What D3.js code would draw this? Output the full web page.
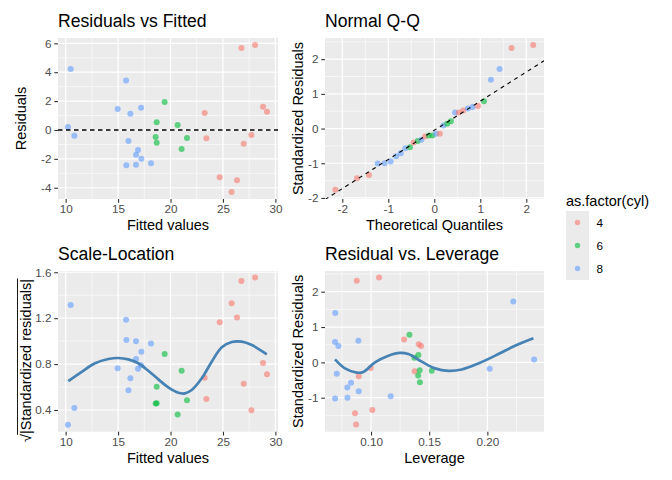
<!DOCTYPE html>
<html><head><meta charset="utf-8">
<script src="https://cdn.jsdelivr.net/npm/d3@7"></script>
<style>
body{margin:0;background:#fff}
svg{display:block}
text{font-family:"Liberation Sans",Arial,Helvetica,sans-serif}
</style>
</head><body>
<svg id="c" width="672" height="480"></svg>
<script>
// ---------------- data ----------------
const cylLevels = ["4", "6", "8"];
const cylColors = ["#F8766D", "#00BA38", "#619CFF"];

// Residuals vs Fitted + Scale-Location (same observations)
const obsCyl = ["8","8","8","8","8","8","8","8","8","8","8","8","8","8",
                "6","6","6","6","6","6","6",
                "4","4","4","4","4","4","4","4","4","4","4"];
const obsFitted = [10.48,10.22,10.83,15.76,14.96,16.17,17.19,15.99,16.90,16.71,17.22,15.79,16.71,18.14,
                   19.44,18.68,20.68,18.58,18.68,21.57,21.06,
                   26.76,28.06,23.26,28.82,29.20,23.42,27.71,26.98,24.69,26.34,25.83];
const obsResid = [4.22,0.20,-0.40,3.43,1.45,1.13,1.54,-0.77,-1.39,-1.71,-1.99,-2.45,-2.41,-2.31,
                  1.93,0.53,0.34,-0.49,-0.88,-0.56,-1.32,
                  5.67,5.88,1.17,1.61,1.27,-0.58,-0.35,-0.95,-3.28,-3.49,-4.30];
const obsSqrtStd = [1.315,0.272,0.418,1.187,0.763,0.677,0.790,0.572,0.760,0.844,0.908,1.010,0.998,0.980,
                    0.888,0.458,0.360,0.456,0.603,0.485,0.743,
                    1.524,1.554,0.682,0.809,0.712,0.496,0.398,0.628,1.165,1.206,1.331];

// Normal Q-Q
const qqTheo = [-2.15,-1.68,-1.42,-1.23,-1.08,-0.95,-0.83,-0.73,-0.63,-0.53,-0.45,-0.36,-0.28,-0.20,-0.12,-0.04,
                0.04,0.12,0.20,0.28,0.36,0.45,0.53,0.63,0.73,0.83,0.95,1.08,1.23,1.42,1.68,2.15];
const qqSample = [-1.76,-1.43,-1.34,-1.01,-1.00,-0.95,-0.80,-0.71,-0.57,-0.54,-0.40,-0.36,-0.32,-0.23,-0.20,-0.20,
                  -0.15,-0.15,0.09,0.14,0.21,0.46,0.46,0.52,0.58,0.62,0.65,0.79,1.41,1.72,2.32,2.41];
const qqCyl = ["4","4","4","8","8","8","8","8","8","6","4","6","8","4","6","6",
               "8","4","8","6","6","8","4","4","8","8","4","6","8","8","4","4"];
const qqLine = [-0.05, 0.84]; // intercept, slope

// Residual vs Leverage
const levCyl = ["4","4","4","4","4","4","4","4","4","4","4",
                "8","8","8","8","8","8","8","8","8","8","8","8","8","8",
                "6","6","6","6","6","6","6"];
const levValue = [0.0877,0.1069,0.1284,0.1410,0.1430,0.1375,0.0997,0.0894,0.1011,0.0862,0.0871,
                  0.0692,0.0690,0.0719,0.0891,0.0705,0.0828,0.0796,0.0894,0.0691,0.0797,0.1169,0.2020,0.2223,0.2402,
                  0.1330,0.1407,0.1373,0.1418,0.1405,0.1420,0.1522];
const levStd = [2.31,2.40,0.65,0.51,0.46,-0.25,-0.16,-0.39,-1.35,-1.44,-1.76,
                1.40,0.58,0.46,0.61,-0.32,-0.58,-0.71,-0.82,-1.02,-1.00,-0.96,-0.18,1.72,0.08,
                0.78,0.21,0.13,-0.22,-0.37,-0.56,-0.24];

// loess smooth curves
const slSmoothX = [10.25,11.53,12.80,14.07,15.02,15.97,16.93,17.88,18.84,19.79,20.75,21.38,22.02,22.98,23.93,24.89,25.84,26.79,27.75,29.18];
const slSmoothY = [0.652,0.733,0.807,0.844,0.853,0.841,0.807,0.742,0.667,0.597,0.550,0.545,0.574,0.676,0.821,0.946,0.992,0.995,0.966,0.885];
const rlSmoothX = [0.0690,0.0776,0.0877,0.0934,0.1034,0.1149,0.1249,0.1321,0.1436,0.1550,0.1665,0.1780,0.1923,0.2095,0.2238,0.2396];
const rlSmoothY = [0.085,-0.17,-0.29,-0.27,0.0,0.19,0.27,0.235,0.02,-0.17,-0.24,-0.20,-0.03,0.235,0.47,0.68];

// ticks
const fitTicks = [10,15,20,25,30], fitLabels = ["10","15","20","25","30"];
const resTicks = [-4,-2,0,2,4,6], resLabels = ["-4","-2","0","2","4","6"];
const qqXTicks = [-2,-1,0,1,2], qqXLabels = ["-2","-1","0","1","2"];
const qqYTicks = [-2,-1,0,1,2], qqYLabels = ["-2","-1","0","1","2"];
const slYTicks = [0.4,0.8,1.2,1.6], slYLabels = ["0.4","0.8","1.2","1.6"];
const levXTicks = [0.10,0.15,0.20], levXLabels = ["0.10","0.15","0.20"];
const levYTicks = [-1,0,1,2], levYLabels = ["-1","0","1","2"];

// ---------------- drawing ----------------
const svg = d3.select("#c");
const color = d3.scaleOrdinal().domain(cylLevels).range(cylColors);
const PT_R = 3.0, PT_ALPHA = 0.6;

function minorOf(ticks, dom) {
  const step = ticks[1] - ticks[0];
  const ext = [ticks[0] - step].concat(ticks, [ticks[ticks.length-1] + step]);
  const out = [];
  for (let i = 0; i < ext.length - 1; i++) {
    const m = (ext[i] + ext[i+1]) / 2;
    if (m >= Math.min(...dom) && m <= Math.max(...dom)) out.push(m);
  }
  return out;
}

let clipId = 0;
function panel(o) {
  const x = d3.scaleLinear().domain(o.xDom).range([o.l, o.r]);
  const y = d3.scaleLinear().domain(o.yDom).range([o.b, o.t]);
  const g = svg.append("g");
  g.append("rect").attr("x", o.l).attr("y", o.t).attr("width", o.r - o.l).attr("height", o.b - o.t).attr("fill", "#EBEBEB");
  // minor grid
  minorOf(o.xTicks, o.xDom).forEach(v => g.append("line").attr("x1", x(v)).attr("x2", x(v)).attr("y1", o.t).attr("y2", o.b).attr("stroke", "#fff").attr("stroke-width", 0.6));
  minorOf(o.yTicks, o.yDom).forEach(v => g.append("line").attr("y1", y(v)).attr("y2", y(v)).attr("x1", o.l).attr("x2", o.r).attr("stroke", "#fff").attr("stroke-width", 0.6));
  // major grid
  o.xTicks.forEach(v => g.append("line").attr("x1", x(v)).attr("x2", x(v)).attr("y1", o.t).attr("y2", o.b).attr("stroke", "#fff").attr("stroke-width", 1.2));
  o.yTicks.forEach(v => g.append("line").attr("y1", y(v)).attr("y2", y(v)).attr("x1", o.l).attr("x2", o.r).attr("stroke", "#fff").attr("stroke-width", 1.2));
  // axes
  const ax = g.append("g").attr("transform", `translate(0,${o.b})`)
    .call(d3.axisBottom(x).tickValues(o.xTicks).tickFormat((d, i) => o.xLabels[i]).tickSizeOuter(0).tickSize(3.7).tickPadding(2.0));
  const ay = g.append("g").attr("transform", `translate(${o.l},0)`)
    .call(d3.axisLeft(y).tickValues(o.yTicks).tickFormat((d, i) => o.yLabels[i]).tickSizeOuter(0).tickSize(3.7).tickPadding(2.9));
  [ax, ay].forEach(a => {
    a.select(".domain").remove();
    a.selectAll(".tick line").attr("stroke", "#333333").attr("stroke-width", 1.1);
    a.selectAll(".tick text").attr("fill", "#4D4D4D").style("font-size", "11.7px").style("font-family", '"Liberation Sans",Arial,sans-serif');
  });
  // titles
  g.append("text").attr("x", o.l).attr("y", o.t - 11).text(o.title).style("font-size", "17.6px").attr("fill", "#000");
  g.append("text").attr("x", (o.l + o.r) / 2).attr("y", o.b + 31).attr("text-anchor", "middle").text(o.xTitle).style("font-size", "14.5px").attr("fill", "#000");
  if (o.yTitle) {
    g.append("text").attr("transform", `translate(${o.yTitleX},${(o.t + o.b) / 2}) rotate(-90)`).attr("text-anchor", "middle").text(o.yTitle).style("font-size", "14.5px").attr("fill", "#000");
  }
  const id = "clip" + (clipId++);
  svg.append("clipPath").attr("id", id).append("rect").attr("x", o.l).attr("y", o.t).attr("width", o.r - o.l).attr("height", o.b - o.t);
  const inner = g.append("g").attr("clip-path", `url(#${id})`);
  return {x, y, g: inner};
}

function points(p, xs, ys, cyls) {
  p.g.append("g").selectAll("circle").data(xs.map((v, i) => ({x: v, y: ys[i], c: cyls[i]}))).join("circle")
    .attr("cx", d => p.x(d.x)).attr("cy", d => p.y(d.y)).attr("r", PT_R)
    .attr("fill", d => color(d.c)).attr("fill-opacity", PT_ALPHA);
}

function smooth(p, xs, ys) {
  const line = d3.line().x(d => p.x(d[0])).y(d => p.y(d[1])).curve(d3.curveCatmullRom.alpha(0.5));
  p.g.append("path").attr("d", line(xs.map((v, i) => [v, ys[i]])))
    .attr("fill", "none").attr("stroke", "#4682B4").attr("stroke-width", 2.7).attr("stroke-linecap", "butt");
}

// Panel 1: Residuals vs Fitted
const p1 = panel({l: 58, r: 278, t: 38, b: 199, xDom: [9.27, 30.25], yDom: [-4.78, 6.37],
  xTicks: fitTicks, xLabels: fitLabels, yTicks: resTicks, yLabels: resLabels,
  title: "Residuals vs Fitted", xTitle: "Fitted values", yTitle: "Residuals", yTitleX: 26});
points(p1, obsFitted, obsResid, obsCyl);
p1.g.append("line").attr("x1", p1.x.range()[0]).attr("x2", p1.x.range()[1]).attr("y1", p1.y(0)).attr("y2", p1.y(0))
  .attr("stroke", "#000").attr("stroke-width", 1.5).attr("stroke-dasharray", "4.5,3.5");

// Panel 2: Normal Q-Q
const p2 = panel({l: 325, r: 544, t: 38, b: 199, xDom: [-2.376, 2.385], yDom: [-2.03, 2.61],
  xTicks: qqXTicks, xLabels: qqXLabels, yTicks: qqYTicks, yLabels: qqYLabels,
  title: "Normal Q-Q", xTitle: "Theoretical Quantiles", yTitle: "Standardized Residuals", yTitleX: 303});
points(p2, qqTheo, qqSample, qqCyl);
{
  const d = p2.x.domain();
  p2.g.append("line").attr("x1", p2.x(d[0])).attr("x2", p2.x(d[1]))
    .attr("y1", p2.y(qqLine[0] + qqLine[1] * d[0])).attr("y2", p2.y(qqLine[0] + qqLine[1] * d[1]))
    .attr("stroke", "#000").attr("stroke-width", 1.1).attr("stroke-dasharray", "4,4");
}

// Panel 3: Scale-Location
const p3 = panel({l: 58, r: 278, t: 271, b: 431.7, xDom: [9.27, 30.25], yDom: [0.211, 1.611],
  xTicks: fitTicks, xLabels: fitLabels, yTicks: slYTicks, yLabels: slYLabels,
  title: "Scale-Location", xTitle: "Fitted values", yTitle: null});
points(p3, obsFitted, obsSqrtStd, obsCyl);
smooth(p3, slSmoothX, slSmoothY);
{
  const tg = svg.append("g").attr("transform", "translate(30.5,442) rotate(-90)");
  const t = tg.append("text").attr("x", 0).attr("y", 0).style("font-size", "14.5px").attr("fill", "#000");
  t.append("tspan").text("\u221A");
  t.append("tspan").text("|Standardized residuals|");
  const node = t.node();
  const rootLen = node.getSubStringLength(0, 1);
  const total = node.getComputedTextLength();
  tg.append("line").attr("x1", rootLen - 0.8).attr("x2", total + 0.5).attr("y1", -13).attr("y2", -13)
    .attr("stroke", "#000").attr("stroke-width", 0.9);
}

// Panel 4: Residual vs. Leverage
const p4 = panel({l: 325, r: 544, t: 271, b: 431.7, xDom: [0.0604, 0.2487], yDom: [-1.962, 2.586],
  xTicks: levXTicks, xLabels: levXLabels, yTicks: levYTicks, yLabels: levYLabels,
  title: "Residual vs. Leverage", xTitle: "Leverage", yTitle: "Standardized Residuals", yTitleX: 303});
points(p4, levValue, levStd, levCyl);
smooth(p4, rlSmoothX, rlSmoothY);

// Legend
{
  const lg = svg.append("g");
  lg.append("text").attr("x", 566).attr("y", 205.5).text("as.factor(cyl)").style("font-size", "14.5px").attr("fill", "#000");
  const keyY = d3.scaleBand().domain(cylLevels).range([211, 280]);
  lg.append("rect").attr("x", 566).attr("y", 211).attr("width", 23).attr("height", 69).attr("fill", "#EBEBEB");
  cylLevels.forEach(c => {
    const cy = keyY(c) + keyY.bandwidth() / 2;
    lg.append("circle").attr("cx", 577.5).attr("cy", cy).attr("r", 2.7).attr("fill", color(c)).attr("fill-opacity", PT_ALPHA);
    lg.append("text").attr("x", 596.5).attr("y", cy).attr("dy", "0.35em").text(c).style("font-size", "11.7px").attr("fill", "#000");
  });
}
</script>
</body></html>
